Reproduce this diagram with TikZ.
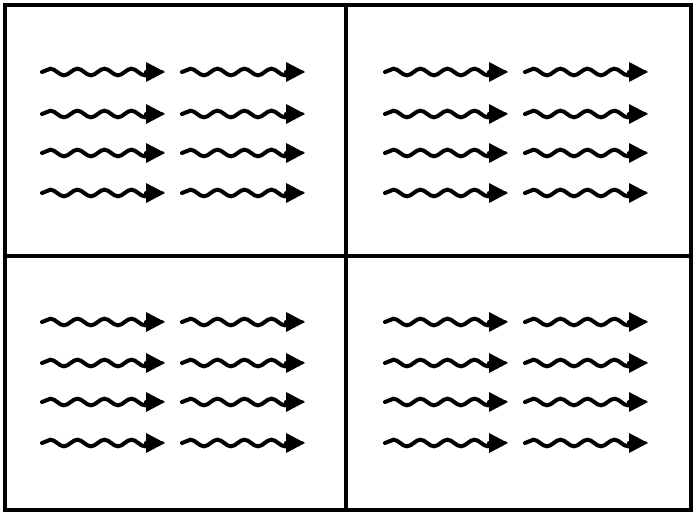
\documentclass[tikz,border=0pt]{standalone}
\usetikzlibrary{decorations.pathmorphing,arrows.meta}
\begin{document}
\begin{tikzpicture}[x=1pt,y=-1pt,
  frame/.style={line width=3.5pt,draw=black},
  wavearrow/.style={line width=4pt,line cap=round,
    decorate,decoration={snake,segment length=27pt,amplitude=3.3pt,post length=6pt},
    -{Triangle[length=19pt,width=20pt,line width=0pt]}}]
\useasboundingbox (0,0) rectangle (698,517);
\fill[white] (0,0) rectangle (698,517);
% panels
\draw[frame] (5,5) rectangle (346,256);
\draw[frame] (346,5) rectangle (691,256);
\draw[frame] (5,256) rectangle (346,510);
\draw[frame] (346,256) rectangle (691,510);
% arrows
\foreach \px in {0,343}{
  \foreach \cx in {42,182}{
    \foreach \ry in {72,114,153,193,322,363,402,443}{
      \coordinate (s) at (\px+\cx,\ry);
      \coordinate (t) at (\px+\cx+123,\ry);
      \draw[wavearrow] (s) -- (t);
    }
  }
}
\end{tikzpicture}
\end{document}
